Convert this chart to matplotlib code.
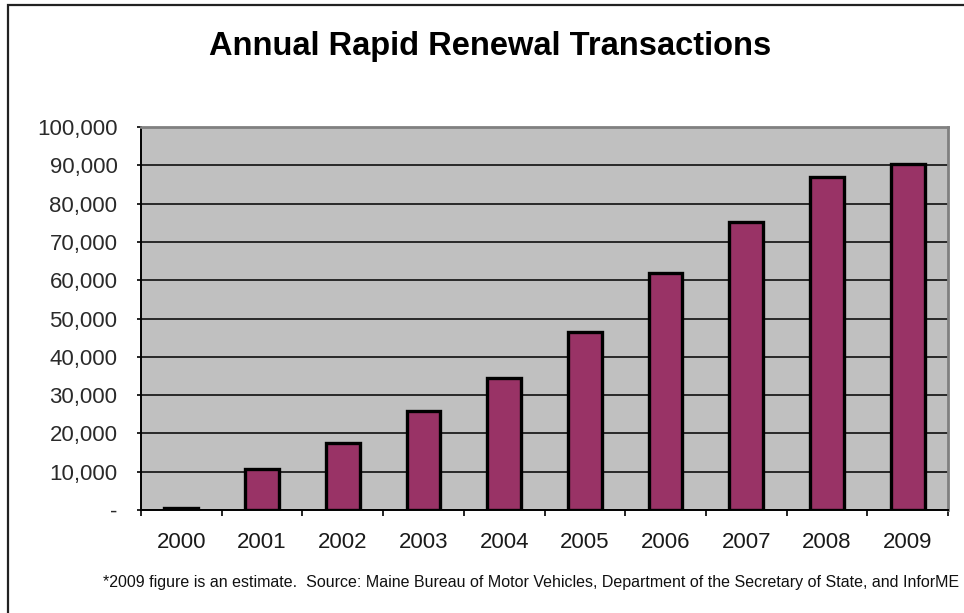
"""Annual Rapid Renewal Transactions - bar chart recreation."""

import matplotlib
matplotlib.use("Agg")
import matplotlib.pyplot as plt
import numpy as np
from matplotlib.patches import Rectangle
from matplotlib.ticker import FuncFormatter, FixedLocator

plt.rcParams["font.family"] = ["Liberation Sans", "DejaVu Sans"]

YEARS = ["2000", "2001", "2002", "2003", "2004",
         "2005", "2006", "2007", "2008", "2009"]
TRANSACTIONS = [600, 10700, 17500, 25800, 34500,
                46500, 62000, 75300, 87000, 90300]
Y_TICKS = list(range(0, 100001, 10000))

TITLE = "Annual Rapid Renewal Transactions"
NOTE = ("*2009 figure is an estimate.  Source: Maine Bureau of Motor Vehicles, "
        "Department of the Secretary of State, and InforME")

BAR_COLOR = "#993366"
PLOT_BG = "#c0c0c0"


def fmt_y(v, _pos):
    return "-" if v == 0 else f"{int(v):,}"


fig = plt.figure(figsize=(9.64, 6.13), dpi=100)
# outer chart border
fig.patches.append(Rectangle((8 / 964, -0.01), 1.0, 1 - 5 / 613 + 0.01,
                             transform=fig.transFigure, fill=False,
                             edgecolor="#222222", linewidth=1.6))

ax = fig.add_axes([141 / 964, 1 - 510 / 613, (948 - 141) / 964, (510 - 127) / 613])
ax.set_facecolor(PLOT_BG)

x = np.arange(len(YEARS))
ax.bar(x, TRANSACTIONS, width=0.42, color=BAR_COLOR,
       edgecolor="black", linewidth=2.4, zorder=3)

ax.set_xlim(-0.5, len(YEARS) - 0.5)
ax.set_ylim(0, 100000)
ax.yaxis.set_major_locator(FixedLocator(Y_TICKS))
ax.yaxis.set_major_formatter(FuncFormatter(fmt_y))
ax.grid(True, axis="y", color="black", linewidth=1.1, zorder=1)

# category labels centred, tick marks on category boundaries
ax.set_xticks(x)
ax.set_xticklabels(YEARS)
ax.set_xticks(np.arange(-0.5, len(YEARS), 1.0), minor=True)
ax.tick_params(axis="x", which="major", length=0, pad=16, labelsize=16,
               labelcolor="#1a1a1a")
ax.tick_params(axis="x", which="minor", length=4, width=1.2, direction="out")
ax.tick_params(axis="y", length=3, width=1.2, direction="out", pad=14,
               labelsize=16, labelcolor="#2a2a2a")

for side in ("top", "right"):
    ax.spines[side].set_color("#808080")
    ax.spines[side].set_linewidth(2)
for side in ("left", "bottom"):
    ax.spines[side].set_color("black")
    ax.spines[side].set_linewidth(1.4)
ax.spines["bottom"].set_zorder(4)

fig.text(490 / 964, 1 - 46 / 613, TITLE, ha="center", va="center",
         fontsize=23.5, fontweight="bold")
fig.text(103 / 964, 1 - 582 / 613, NOTE, ha="left", va="center",
         fontsize=11.5, color="#111111")

fig.savefig("out.png", dpi=100)
plt.close(fig)
